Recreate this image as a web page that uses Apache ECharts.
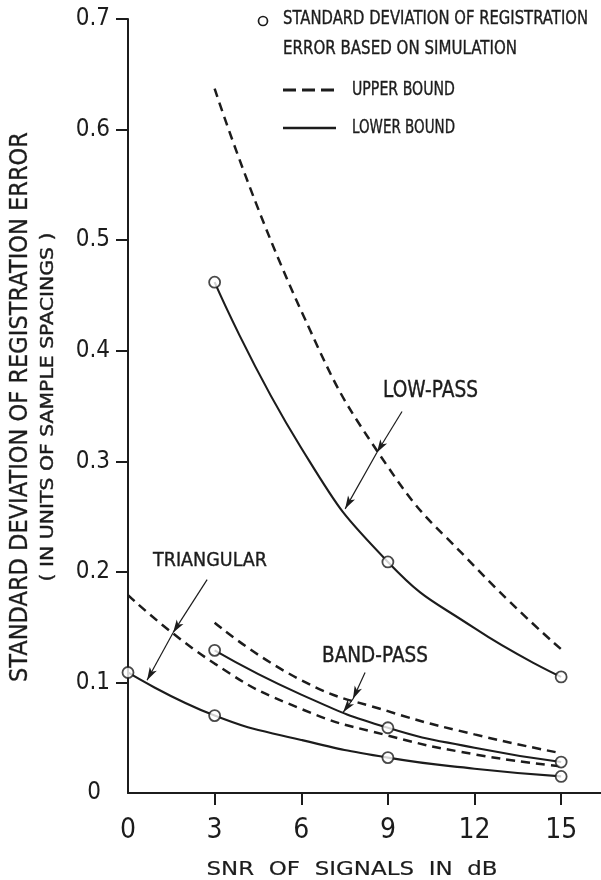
<!DOCTYPE html>
<html>
<head>
<meta charset="utf-8">
<script src="https://cdn.jsdelivr.net/npm/echarts@6/dist/echarts.min.js"></script>
<style>
  html, body { margin: 0; padding: 0; background: #ffffff; }
  #chart { width: 601px; height: 880px; }
</style>
</head>
<body>
<div id="chart"></div>
<script>
// ---- data -------------------------------------------------------------
const snrTickValues = [0, 3, 6, 9, 12, 15];
const stdTickValues = [0, 0.1, 0.2, 0.3, 0.4, 0.5, 0.6, 0.7];

// bound curves (SNR in dB -> std. deviation in sample spacings)
const boundSnr = [3, 6, 9, 12, 15];
const triangularSnr = [0, 3, 6, 9, 12, 15];
const lowPassUpper = [0.637, 0.436, 0.295, 0.205, 0.130];
const lowPassLower = [0.462, 0.312, 0.209, 0.149, 0.105];
const bandPassUpper = [0.154, 0.102, 0.074, 0.053, 0.036];
const bandPassLower = [0.129, 0.089, 0.059, 0.041, 0.028];
const triangularUpper = [0.179, 0.117, 0.076, 0.052, 0.035, 0.024];
const triangularLower = [0.109, 0.070, 0.048, 0.032, 0.022, 0.015];

// simulation results
const simSnr = [3, 9, 15];
const simTriangularSnr = [0, 3, 9, 15];
const simLowPass = [0.462, 0.209, 0.105];
const simBandPass = [0.129, 0.059, 0.028];
const simTriangular = [0.109, 0.070, 0.032, 0.015];

// ---- helpers ----------------------------------------------------------
const INK = '#1c1c1c';
const pair = (xs, ys) => xs.map((x, i) => [x, ys[i]]);

const measureCtx = document.createElement('canvas').getContext('2d');
function fitScale(text, font, width) {
  measureCtx.font = font;
  return width / measureCtx.measureText(text).width;
}
// text element stretched/condensed to a given width
function label(text, x, y, fontSize, width, opts) {
  opts = opts || {};
  const family = opts.family || '"DejaVu Sans"';
  const font = fontSize + 'px ' + family;
  const s = fitScale(text, font, width);
  return {
    type: 'text',
    x: x, y: y,
    rotation: opts.rotation || 0,
    scaleX: s,
    silent: true,
    style: {
      text: text,
      font: font,
      fill: INK,
      stroke: INK,
      lineWidth: opts.weight || 0.4,
      textAlign: opts.align || 'left',
      textVerticalAlign: 'middle'
    }
  };
}

function boundSeries(name, xs, ys, dashed) {
  return {
    name: name,
    type: 'line',
    data: pair(xs, ys),
    smooth: 0.5,
    showSymbol: false,
    silent: true,
    lineStyle: { color: INK, width: dashed ? 2.5 : 2.1, type: dashed ? [9, 6] : 'solid' },
    z: 2
  };
}
function simSeries(name, xs, ys) {
  return {
    name: name,
    type: 'scatter',
    data: pair(xs, ys),
    symbol: 'circle',
    symbolSize: 11,
    silent: true,
    itemStyle: { color: '#ffffff', borderColor: INK, borderWidth: 1.8 },
    z: 5
  };
}
// pointer drawn as two arrowed segments: text -> upper curve -> lower curve
function pointer(path) {
  const segs = [];
  for (let i = 0; i < path.length - 1; i++) {
    segs.push([{ coord: path[i], symbol: 'none' }, { coord: path[i + 1], symbol: 'arrow' }]);
  }
  return segs;
}
const pointers = [
  ...pointer([[9.49, 0.345], [8.62, 0.308], [7.52, 0.257]]),
  ...pointer([[2.74, 0.193], [1.56, 0.145], [0.66, 0.102]]),
  ...pointer([[8.21, 0.109], [7.79, 0.085], [7.45, 0.073]])
];

// ---- chart ------------------------------------------------------------
const chart = echarts.init(document.getElementById('chart'), null, { renderer: 'canvas' });

const tickFont = '"Liberation Sans Narrow", "DejaVu Sans Condensed", "Liberation Sans", sans-serif';

const lowPassLowerSeries = boundSeries('Low-pass lower bound', boundSnr, lowPassLower, false);
lowPassLowerSeries.markLine = {
  silent: true,
  animation: false,
  symbolSize: [6, 13],
  label: { show: false },
  lineStyle: { color: INK, width: 1.2, type: 'solid' },
  data: pointers
};

chart.setOption({
  animation: false,
  backgroundColor: '#ffffff',
  grid: { left: 128, right: 0, top: 19, bottom: 87, containLabel: false },
  xAxis: {
    type: 'value',
    min: 0,
    max: 16.38,
    interval: 3,
    splitLine: { show: false },
    axisLine: { show: true, onZero: false, lineStyle: { color: INK, width: 2 } },
    axisTick: { show: true, length: 12, customValues: snrTickValues.slice(1), lineStyle: { color: INK, width: 2 } },
    axisLabel: {
      customValues: snrTickValues,
      margin: 24,
      color: INK,
      fontSize: 28,
      fontFamily: tickFont
    }
  },
  yAxis: {
    type: 'value',
    min: 0,
    max: 0.7,
    interval: 0.1,
    splitLine: { show: false },
    axisLine: { show: true, onZero: false, lineStyle: { color: INK, width: 2 } },
    axisTick: { show: true, length: 12, customValues: stdTickValues.slice(1), lineStyle: { color: INK, width: 2 } },
    axisLabel: {
      customValues: stdTickValues,
      margin: 18,
      color: INK,
      fontSize: 24,
      fontFamily: tickFont,
      formatter: v => (v === 0 ? '{z|0}' : v.toFixed(1)),
      rich: { z: { fontSize: 24, fontFamily: tickFont, color: INK, padding: [0, 9, 0, 0] } }
    }
  },
  series: [
    boundSeries('Low-pass upper bound', boundSnr, lowPassUpper, true),
    lowPassLowerSeries,
    boundSeries('Band-pass upper bound', boundSnr, bandPassUpper, true),
    boundSeries('Band-pass lower bound', boundSnr, bandPassLower, false),
    boundSeries('Triangular upper bound', triangularSnr, triangularUpper, true),
    boundSeries('Triangular lower bound', triangularSnr, triangularLower, false),
    simSeries('Low-pass simulation', simSnr, simLowPass),
    simSeries('Band-pass simulation', simSnr, simBandPass),
    simSeries('Triangular simulation', simTriangularSnr, simTriangular)
  ],
  graphic: [
    // key
    { type: 'circle', silent: true, shape: { cx: 263, cy: 21, r: 4.5 },
      style: { fill: '#ffffff', stroke: INK, lineWidth: 1.7 } },
    label('STANDARD DEVIATION OF REGISTRATION', 283, 19.5, 19, 305),
    label('ERROR BASED ON SIMULATION', 283, 49.5, 19, 234),
    { type: 'line', silent: true, shape: { x1: 283, y1: 90, x2: 336, y2: 90 },
      style: { stroke: INK, lineWidth: 2.8, lineDash: [13, 6] } },
    label('UPPER BOUND', 352, 90.5, 19, 103),
    { type: 'line', silent: true, shape: { x1: 283, y1: 128, x2: 336, y2: 128 },
      style: { stroke: INK, lineWidth: 2.4 } },
    label('LOWER BOUND', 352, 128, 19, 103),
    // curve names
    label('LOW-PASS', 383, 391, 23, 95),
    label('TRIANGULAR', 153, 561, 20, 114),
    label('BAND-PASS', 322, 657, 21, 106),
    // axis titles
    label('SNR  OF  SIGNALS  IN  dB', 352, 870, 20, 291, { align: 'center', weight: 0.2 }),
    label('STANDARD DEVIATION OF REGISTRATION ERROR', 21, 407, 24, 550, { align: 'center', rotation: Math.PI / 2, weight: 0.3 }),
    label('( IN UNITS OF SAMPLE SPACINGS )', 49, 407, 17, 349, { align: 'center', rotation: Math.PI / 2 })
  ]
});
</script>
</body>
</html>
